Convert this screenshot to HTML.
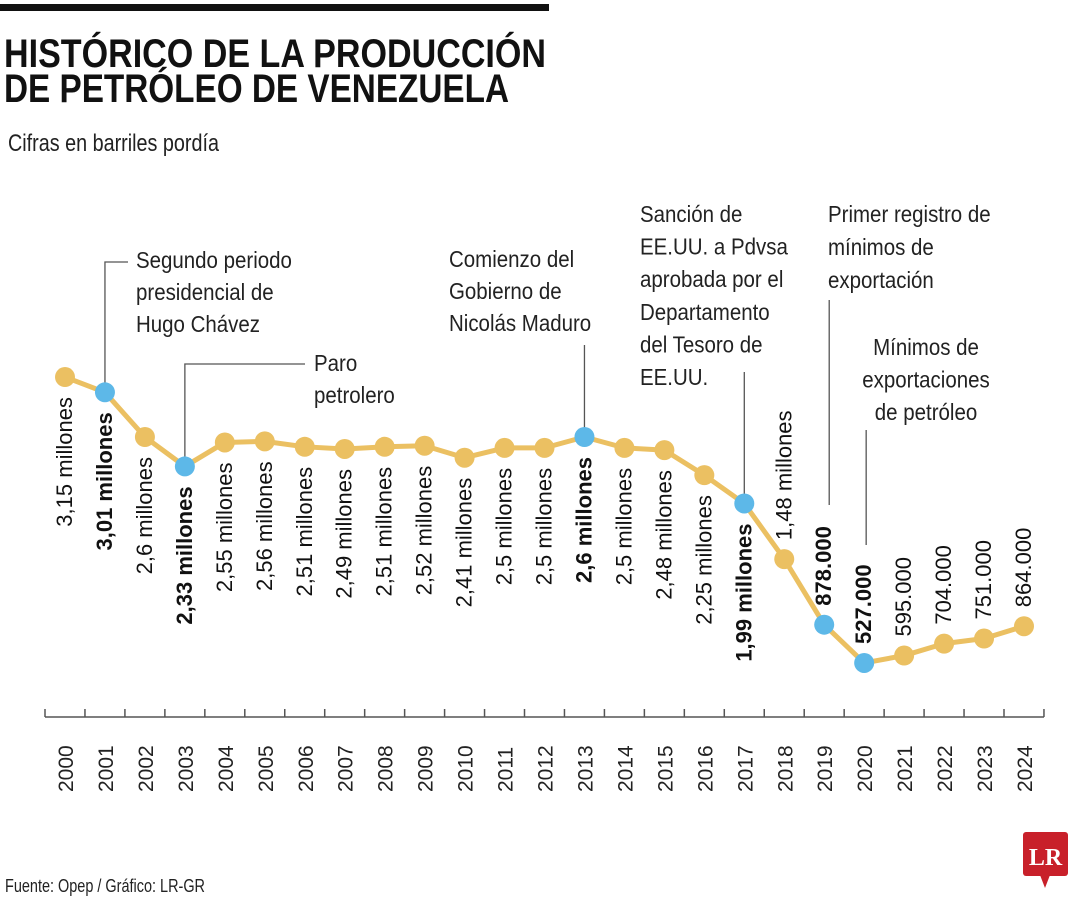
<!DOCTYPE html>
<html><head><meta charset="utf-8"><style>
html,body{margin:0;padding:0;background:#fff;}
svg{display:block;font-family:"Liberation Sans",sans-serif;}
</style></head><body>
<svg id="chart" width="1080" height="900" viewBox="0 0 1080 900">
<rect x="0" y="4" width="549" height="7" fill="#111"/>
<text x="4" y="67" font-size="40" font-weight="bold" fill="#111" textLength="542" lengthAdjust="spacingAndGlyphs">HISTÓRICO DE LA PRODUCCIÓN</text>
<text x="4" y="102" font-size="40" font-weight="bold" fill="#111" textLength="505" lengthAdjust="spacingAndGlyphs">DE PETRÓLEO DE VENEZUELA</text>
<text x="8" y="151" font-size="24" fill="#222" textLength="211" lengthAdjust="spacingAndGlyphs">Cifras en barriles pordía</text>
<g id="annot" font-size="23" fill="#222"></g>
<g id="axis"></g>
<g id="series"></g>
<text x="5" y="892" font-size="18" fill="#222" textLength="200" lengthAdjust="spacingAndGlyphs">Fuente: Opep / Gráfico: LR-GR</text>
<g>
<rect x="1023" y="832" width="45" height="44" rx="3" fill="#c8202a"/>
<polygon points="1040,875 1050,875 1045,888" fill="#c8202a"/>
<text x="1045.5" y="865" font-size="24" font-weight="bold" fill="#fff" text-anchor="middle" font-family="Liberation Serif, serif">LR</text>
</g>
</svg>
<script>
const years = ["2000","2001","2002","2003","2004","2005","2006","2007","2008","2009","2010","2011","2012","2013","2014","2015","2016","2017","2018","2019","2020","2021","2022","2023","2024"];
const values = [3.15,3.01,2.6,2.33,2.55,2.56,2.51,2.49,2.51,2.52,2.41,2.5,2.5,2.6,2.5,2.48,2.25,1.99,1.48,0.878,0.527,0.595,0.704,0.751,0.864];
const valueLabels = ["3,15 millones","3,01 millones","2,6 millones","2,33 millones","2,55 millones","2,56 millones","2,51 millones","2,49 millones","2,51 millones","2,52 millones","2,41 millones","2,5 millones","2,5 millones","2,6 millones","2,5 millones","2,48 millones","2,25 millones","1,99 millones","1,48 millones","878.000","527.000","595.000","704.000","751.000","864.000"];
const highlighted = ["2001","2003","2013","2017","2019","2020"];
const labelAbove = ["2018","2019","2020","2021","2022","2023","2024"];

const NS="http://www.w3.org/2000/svg";
function xPos(i){return 65+i*(1024-65)/24;}
function yPos(v){return 720.4-v*109;}
function mk(tag,attrs,parent){const e=document.createElementNS(NS,tag);for(const k in attrs)e.setAttribute(k,attrs[k]);parent.appendChild(e);return e;}

const axis=document.getElementById('axis');
let al=mk('line',{x1:45,y1:717,x2:1044,y2:717,stroke:'#555','stroke-width':1.5},axis);


for(let i=0;i<=years.length;i++){
  const tx=xPos(i)-20;
  const t=mk('line',{x1:tx,y1:709,x2:tx,y2:717,stroke:'#555','stroke-width':1.5},axis);
  
  
}
years.forEach((y,i)=>{
  const t=mk('text',{transform:`translate(${xPos(i)+8},792) rotate(-90)`,'font-size':21,fill:'#222'},axis);
  t.textContent=y;
  
  
});

const ser=document.getElementById('series');
const pts=values.map((v,i)=>xPos(i)+','+yPos(v)).join(' ');
const pl=mk('polyline',{points:pts,fill:'none',stroke:'#ebc062','stroke-width':5,'stroke-linejoin':'round'},ser);



const an=document.getElementById('annot');
function idx(y){return years.indexOf(y);}
function leader(d,name){const p=mk('path',{d:d,fill:'none',stroke:'#555','stroke-width':1.3},an);}
function block(lines,x,y0,dy,name,anchor){const g=mk('g',{transform:`translate(${x},0) scale(0.89,1)`},an);const t=mk('text',{x:0,y:y0,'text-anchor':anchor||'start'},g);lines.forEach((l,k)=>{const s=mk('tspan',{x:0,y:y0+k*dy},t);s.textContent=l;});}
let i1=idx("2001"),i3=idx("2003"),i13=idx("2013"),i17=idx("2017"),i19=idx("2019"),i20=idx("2020");
leader(`M${xPos(i1)},${yPos(values[i1])} V262 H128`,'leader-chavez');
leader(`M${xPos(i3)},${yPos(values[i3])} V364 H305`,'leader-paro');
leader(`M${xPos(i13)},${yPos(values[i13])} V345`,'leader-maduro');
leader(`M${xPos(i17)},${yPos(values[i17])} V372`,'leader-sancion');
leader(`M${xPos(i19)+5},505 V300`,'leader-primer-registro');
leader(`M${xPos(i20)+2},545 V430`,'leader-minimos');
block(["Segundo periodo","presidencial de","Hugo Chávez"],136,268,32,'annotation-chavez');
block(["Paro","petrolero"],314,371,32,'annotation-paro');
block(["Comienzo del","Gobierno de","Nicolás Maduro"],449,267,32,'annotation-maduro');
block(["Sanción de","EE.UU. a Pdvsa","aprobada por el","Departamento","del Tesoro de","EE.UU."],640,222,32.6,'annotation-sancion');
block(["Primer registro de","mínimos de","exportación"],828,222,33,'annotation-primer-registro');
block(["Mínimos de","exportaciones","de petróleo"],926,355,32.5,'annotation-minimos','middle');

values.forEach((v,i)=>{
  const hi=highlighted.includes(years[i]);
  const c=mk('circle',{cx:xPos(i),cy:yPos(v),r:10,fill:hi?'#5db8e8':'#ebc062'},ser);
  
  
  const above=labelAbove.includes(years[i]);
  const ty=above?yPos(v)-19:yPos(v)+20;
  const t=mk('text',{transform:`translate(${xPos(i)+7},${ty}) rotate(-90)`,'text-anchor':above?'start':'end','font-size':22,'font-weight':hi?'bold':'normal',fill:'#111'},ser);
  t.textContent=valueLabels[i];
  
  
});
</script>
</body></html>
